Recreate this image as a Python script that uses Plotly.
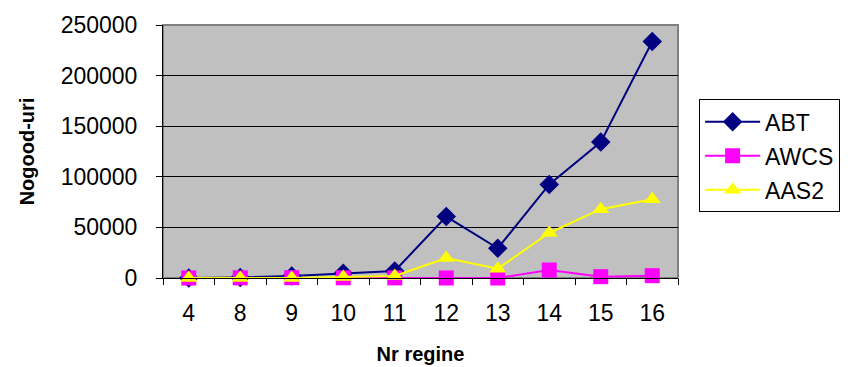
import plotly.graph_objects as go

categories = ["4", "8", "9", "10", "11", "12", "13", "14", "15", "16"]
abt = [100, 500, 2000, 4600, 7000, 60700, 29400, 92400, 134300, 233700]
awcs = [0, 200, 300, 200, 100, 0, 0, 7900, 1300, 2300]
aas2 = [0, 0, 100, 1000, 2000, 19800, 9200, 44500, 68000, 77900]
y_ticks = [0, 50000, 100000, 150000, 200000, 250000]

FONT = "Liberation Sans, Arial, sans-serif"

fig = go.Figure()
fig.add_trace(go.Scatter(x=categories, y=abt, name="ABT", mode="lines+markers",
                         line=dict(color="#000080", width=2), cliponaxis=False,
                         marker=dict(symbol="diamond", size=15, color="#000080"),
                         legendgroup="a"))
fig.add_trace(go.Scatter(x=categories, y=awcs, name="AWCS", mode="lines+markers",
                         line=dict(color="#FF00FF", width=2), cliponaxis=False,
                         marker=dict(symbol="square", size=15, color="#FF00FF"),
                         legendgroup="b"))
fig.add_trace(go.Scatter(x=categories, y=aas2, name="AAS2", mode="lines+markers",
                         line=dict(color="#FFFF00", width=2), cliponaxis=False,
                         marker=dict(symbol="triangle-up", size=15, color="#FFFF00"),
                         legendgroup="c"))

fig.update_layout(
    width=853, height=367,
    margin=dict(l=155, r=183, t=17, b=97, autoexpand=False),
    plot_bgcolor="#C0C0C0", paper_bgcolor="white",
    font=dict(family=FONT, size=23, color="black"),
    showlegend=True,
    legend=dict(x=1.041, y=0.706, xanchor="left", yanchor="top",
                bordercolor="black", borderwidth=1, bgcolor="white",
                font=dict(size=23), tracegroupgap=1, traceorder="grouped",
                itemwidth=55),
    xaxis=dict(type="category", range=[-0.5, 9.5], showline=True, linecolor="black", linewidth=1,
               ticks="outside", tickson="boundaries", ticklen=6, tickcolor="black",
               showgrid=False, mirror=False, ticklabelstandoff=14,
               title=dict(text="<b>Nr regine</b>", font=dict(size=20), standoff=22)),
    yaxis=dict(range=[0, 250000], tickvals=y_ticks, ticktext=[str(v) for v in y_ticks],
               showline=True, linecolor="black", linewidth=1,
               ticks="outside", ticklen=6, tickcolor="black",
               showgrid=True, gridcolor="black", gridwidth=1, zeroline=False,
               ticklabelstandoff=14,
               title=dict(text="<b>Nogood-uri</b>", font=dict(size=20), standoff=20)),
)

# gray border on top/right of plot area
fig.add_shape(type="rect", xref="paper", yref="paper", x0=0, y0=0, x1=1, y1=1,
              line=dict(color="#808080", width=2), layer="below")

fig.write_html("out.html")
